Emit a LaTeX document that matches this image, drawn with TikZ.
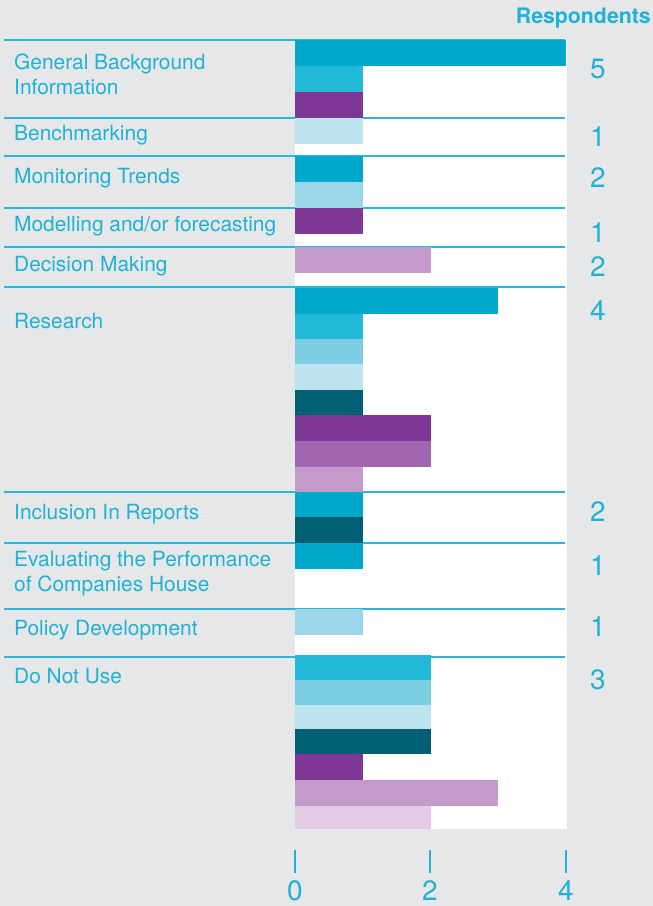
\documentclass[tikz,border=0pt]{standalone}
\usepackage{xcolor}
\usepackage{tikz}
\usepackage{fontspec}
\setmainfont{TeX Gyre Heros}

\definecolor{bgray}{HTML}{E6E7E9}
\definecolor{rule}{HTML}{2DB6D8}
\definecolor{txt}{HTML}{1FB2D5}
\definecolor{cyanA}{HTML}{00A8CC}
\definecolor{cyanB}{HTML}{22B8D8}
\definecolor{cyanC}{HTML}{7DCDE3}
\definecolor{cyanD}{HTML}{BDE4EF}
\definecolor{cyanE}{HTML}{9BD7E8}
\definecolor{teal}{HTML}{005F73}
\definecolor{purpA}{HTML}{7F3795}
\definecolor{purpB}{HTML}{A067B0}
\definecolor{purpC}{HTML}{C49ACB}
\definecolor{purpD}{HTML}{E2CCE5}

\tikzset{
  cat/.style={anchor=west, inner sep=0pt, text=txt, align=left,
    font=\fontsize{20.9}{25}\selectfont},
  count/.style={inner sep=0pt, text=txt, font=\fontsize{28}{30}\selectfont},
  tick/.style={draw=txt, line width=2pt}
}

\begin{document}
\begin{tikzpicture}[x=1pt, y=-1pt]
    \fill[bgray] (0,0) rectangle (653,906);
    \fill[white] (295,40) rectangle (567,829);

    \foreach \y in {40,118,156,208,247,287,492,543,609,657}
        \draw[rule, line width=1.3pt] (4,\y) -- (565,\y);

    \foreach \top/\bot/\val/\col in {
        40/66/4/cyanA, 66/92/1/cyanB, 92/118/1/purpA,
        118/144/1/cyanD,
        156/182/1/cyanA, 182/208/1/cyanE,
        208/234/1/purpA,
        247/273/2/purpC,
        288/314/3/cyanA, 314/339/1/cyanB, 339/364/1/cyanC, 364/390/1/cyanD,
        390/415/1/teal, 415/441/2/purpA, 441/467/2/purpB, 467/492/1/purpC,
        492/517/1/cyanA, 517/543/1/teal,
        543/569/1/cyanA,
        609/635/1/cyanE,
        655/680/2/cyanB, 680/705/2/cyanC, 705/729/2/cyanD, 729/754/2/teal,
        754/780/1/purpA, 780/806/3/purpC, 806/829/2/purpD}
        \fill[\col] (295,\top) rectangle ({295+67.75*\val},\bot);

    \node (resp) at (651, 18) [anchor=east, inner sep=0pt, text=txt, font=\fontsize{21.3}{23}\selectfont\bfseries] {Respondents};

    \node (gbi) at (14, 74) [cat] {General Background\\Information};
    \node (bench) at (14, 135) [cat] {Benchmarking};
    \node (trend) at (14, 178) [cat] {Monitoring Trends};
    \node (model) at (14, 226) [cat] {Modelling and/or forecasting};
    \node (decide) at (14, 266) [cat] {Decision Making};
    \node (research) at (14, 321) [cat] {Research};
    \node (reports) at (14, 514) [cat] {Inclusion In Reports};
    \node (perform) at (14, 574) [cat] {Evaluating the Performance\\of Companies House};
    \node (policy) at (14, 630) [cat] {Policy Development};
    \node (nouse) at (14, 676) [cat] {Do Not Use};

    \node (n1) at (598, 69) [count] {5};
    \node (n2) at (598, 137) [count] {1};
    \node (n3) at (598, 178) [count] {2};
    \node (n4) at (598, 233) [count] {1};
    \node (n5) at (598, 267) [count] {2};
    \node (n6) at (598, 311) [count] {4};
    \node (n7) at (598, 512) [count] {2};
    \node (n8) at (598, 566) [count] {1};
    \node (n9) at (598, 627) [count] {1};
    \node (n10) at (598, 680) [count] {3};

    \foreach \v/\x in {0/295, 2/430, 4/566} {
        \draw[tick] (\x,850) -- (\x,873);
        \node (ax\v) at (\x, 891) [count] {\v};
    }
\end{tikzpicture}
\end{document}
